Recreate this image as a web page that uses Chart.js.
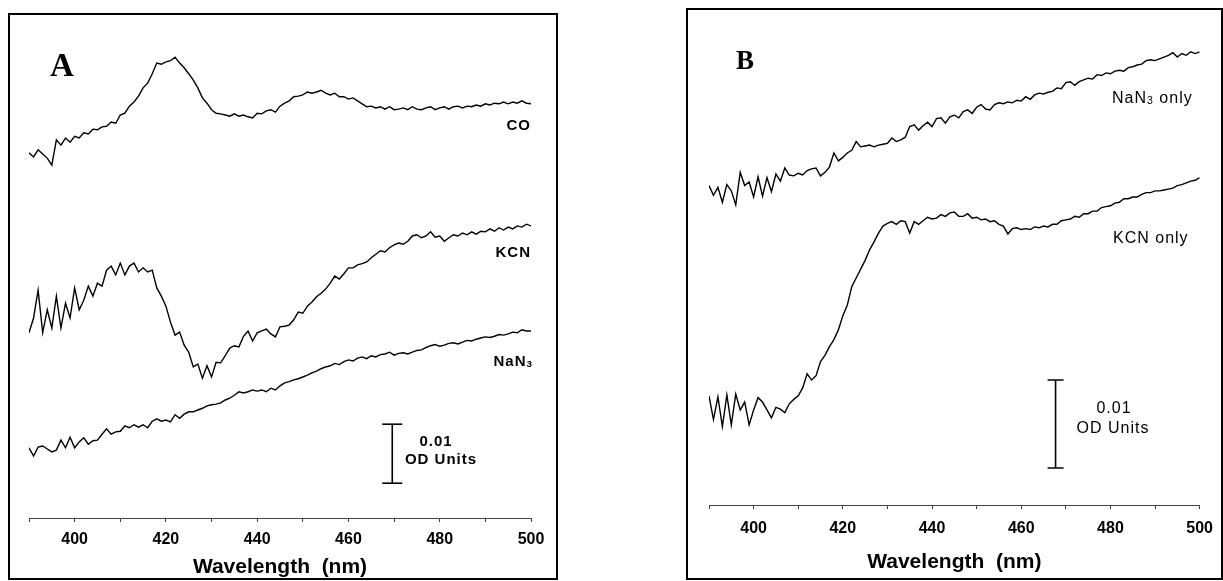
<!DOCTYPE html>
<html>
<head>
<meta charset="utf-8">
<script src="https://cdn.jsdelivr.net/npm/chart.js@4.4.0/dist/chart.umd.min.js"></script>
<style>
  html, body { margin: 0; padding: 0; background: #fff; }
  #stage { position: relative; width: 1223px; height: 581px; overflow: hidden; background: #fff; }
  .frame { position: absolute; border: 2px solid #000; box-sizing: border-box; }
  canvas { position: absolute; top: 0; }
  .lbl { position: absolute; line-height: 1; white-space: nowrap; color: #000;
         font-family: "Liberation Sans", Arial, Helvetica, sans-serif; }
  .r { transform: translate(-100%, -50%); }
  .l { transform: translate(0, -50%); }
  .c { transform: translate(-50%, -50%); }
  .panel { font-family: "Liberation Serif", "Times New Roman", serif; font-weight: bold; }
  .sub { font-size: 0.66em; position: relative; top: 0.12em; }
</style>
</head>
<body>
<div id="stage">
  <div class="frame" style="left:8px;top:13px;width:550px;height:567px;"></div>
  <div class="frame" style="left:686px;top:8px;width:537px;height:572px;"></div>
  <canvas id="chartA" width="560" height="581" style="left:0px;"></canvas>
  <canvas id="chartB" width="563" height="581" style="left:660px;"></canvas>

  <div class="lbl panel l" style="left:50px;top:65px;font-size:33px;">A</div>
  <div class="lbl r" style="left:531px;top:124px;font-size:15px;font-weight:bold;letter-spacing:1px;">CO</div>
  <div class="lbl r" style="left:531px;top:251px;font-size:15px;font-weight:bold;letter-spacing:1px;">KCN</div>
  <div class="lbl r" style="left:533px;top:360px;font-size:15px;font-weight:bold;letter-spacing:1px;">NaN<span class="sub">3</span></div>
  <div class="lbl c" style="left:436px;top:440px;font-size:15px;font-weight:bold;letter-spacing:1px;">0.01</div>
  <div class="lbl c" style="left:441px;top:458px;font-size:15px;font-weight:bold;letter-spacing:1px;">OD Units</div>

  <div class="lbl panel l" style="left:736px;top:60px;font-size:27px;">B</div>
  <div class="lbl l" style="left:1112px;top:98px;font-size:16px;letter-spacing:1px;">NaN<span class="sub">3</span> only</div>
  <div class="lbl l" style="left:1113px;top:238px;font-size:16px;letter-spacing:1px;">KCN only</div>
  <div class="lbl c" style="left:1114px;top:408px;font-size:16px;letter-spacing:1px;">0.01</div>
  <div class="lbl c" style="left:1113px;top:428px;font-size:16px;letter-spacing:1px;">OD Units</div>
</div>
<script>
// Wavelength (nm) shared by all traces
const wavelengths = [
 390,391,392,393,394,395,396,397,398,399,
 400,401,402,403,404,405,406,407,408,409,
 410,411,412,413,414,415,416,417,418,419,
 420,421,422,423,424,425,426,427,428,429,
 430,431,432,433,434,435,436,437,438,439,
 440,441,442,443,444,445,446,447,448,449,
 450,451,452,453,454,455,456,457,458,459,
 460,461,462,463,464,465,466,467,468,469,
 470,471,472,473,474,475,476,477,478,479,
 480,481,482,483,484,485,486,487,488,489,
 490,491,492,493,494,495,496,497,498,499,
 500];

// Panel A traces (absorbance offset, mOD)
const coA = [
 61.9,61.2,62.4,61.7,61.0,59.8,64.1,63.2,64.4,63.7,
 64.7,64.4,65.3,65.1,65.9,65.8,66.3,66.4,67.1,66.9,
 68.3,68.6,69.8,70.5,71.5,72.9,73.7,75.3,77.1,76.9,
 77.3,77.5,78.1,77.1,76.3,75.3,74.2,72.9,71.2,70.3,
 69.2,68.6,68.5,68.3,68.1,68.5,68.1,68.3,68.0,67.8,
 68.6,68.5,69.0,69.2,68.8,69.8,70.3,70.7,71.4,71.5,
 71.7,72.2,72.0,72.2,72.5,72.0,71.7,72.0,71.4,71.4,
 71.0,71.2,70.7,70.2,69.7,69.8,69.5,69.7,69.3,69.7,
 69.2,69.3,69.5,69.2,69.7,69.3,69.2,69.5,69.7,69.2,
 69.5,69.7,69.3,69.7,69.8,69.5,69.8,69.7,70.0,69.8,
 70.2,70.0,70.3,70.2,70.5,70.2,70.5,70.3,70.7,70.3,
 70.2];
const kcnA = [
 31.4,33.9,38.6,31.4,35.3,32.2,37.6,32.2,36.4,33.9,
 39.0,35.3,36.9,39.3,37.6,39.8,39.3,42.0,42.7,41.2,
 43.2,41.2,42.7,43.2,41.7,42.4,41.7,42.0,39.0,37.6,
 35.9,33.2,31.0,31.5,29.3,28.1,25.6,26.1,23.7,25.8,
 23.9,26.4,26.3,27.5,28.8,29.2,29.0,30.8,31.7,30.0,
 31.4,31.7,32.0,31.2,30.7,32.4,32.5,32.7,33.6,34.9,
 34.7,35.9,36.6,37.5,38.1,38.8,39.8,41.0,40.5,41.4,
 42.4,42.4,42.9,43.1,43.4,44.1,44.7,45.3,45.1,45.8,
 46.3,46.6,46.4,46.9,47.8,48.0,47.5,47.8,48.5,47.6,
 47.8,46.9,47.5,48.0,47.8,48.3,48.0,48.5,48.1,48.6,
 48.5,49.0,48.6,49.2,48.8,49.3,49.0,49.5,49.3,49.8,
 49.5];
const nan3A = [
 11.9,10.5,12.0,12.2,11.7,11.2,11.5,13.2,11.9,13.7,
 11.9,12.9,13.6,12.5,13.1,13.2,14.2,15.1,14.2,14.6,
 14.7,15.6,15.3,15.8,15.4,15.8,15.3,16.4,16.8,16.4,
 16.6,16.3,17.5,16.9,17.6,18.0,18.0,18.3,18.6,19.0,
 19.2,19.3,19.5,20.0,20.3,20.8,21.4,21.2,21.4,21.7,
 21.5,21.7,21.4,22.0,21.7,22.4,22.9,23.1,23.4,23.6,
 23.9,24.2,24.6,24.9,25.3,25.6,25.8,26.2,26.0,26.5,
 26.8,26.6,27.1,27.3,27.0,27.5,27.3,27.7,27.8,28.1,
 27.6,27.9,28.0,27.8,28.1,28.4,28.5,28.9,29.2,29.4,
 29.1,29.3,29.6,29.7,29.5,29.8,30.1,30.0,30.3,30.5,
 30.7,30.6,30.8,31.1,31.0,31.2,31.5,31.4,31.9,31.7,
 31.7];

// Panel B traces (absorbance offset, mOD)
const nan3OnlyB = [
 36.3,35.2,36.1,34.4,36.4,35.7,34.1,37.8,36.3,36.7,
 35.0,37.3,35.1,37.2,35.6,37.6,36.8,38.3,37.5,37.4,
 37.7,37.5,38.0,38.2,38.3,37.4,37.8,38.4,40.0,39.1,
 39.5,40.0,40.3,41.3,40.7,40.8,40.9,40.7,40.9,41.0,
 41.1,41.7,41.3,41.5,41.8,43.0,43.2,42.6,43.1,43.5,
 43.0,43.9,44.0,43.4,44.1,44.3,44.0,44.7,44.9,44.5,
 45.2,45.5,45.0,44.9,45.5,45.7,45.6,45.8,45.7,46.0,
 45.9,46.4,46.1,46.6,46.8,46.7,46.9,47.0,47.4,47.3,
 48.0,48.1,47.7,48.1,48.3,48.5,48.4,48.9,48.8,49.1,
 49.0,49.3,49.4,49.3,49.7,49.8,50.0,50.1,50.5,50.6,
 50.5,50.7,50.9,51.1,51.4,50.9,51.3,51.1,51.5,51.3,
 51.5];
const kcnOnlyB = [
 12.4,9.7,12.3,8.9,12.5,9.1,12.6,10.8,11.7,9.1,
 10.8,12.2,11.7,10.8,9.9,11.1,10.9,10.5,11.5,12.0,
 12.4,13.3,14.9,14.2,14.7,16.3,17.0,18.0,18.8,19.9,
 21.5,22.7,24.8,25.8,26.8,27.8,29.0,29.9,30.9,31.7,
 32.0,32.2,31.9,32.3,32.2,30.9,32.2,31.9,32.3,32.7,
 32.5,32.6,33.0,32.8,33.2,33.3,32.8,32.8,33.1,32.6,
 32.7,32.4,32.5,32.2,32.3,31.9,31.7,30.8,31.4,31.5,
 31.3,31.4,31.3,31.6,31.5,31.7,31.6,31.9,31.9,32.3,
 32.4,32.5,32.8,32.7,33.1,33.1,33.4,33.4,33.8,33.9,
 34.0,34.3,34.4,34.8,34.8,35.0,35.0,35.3,35.5,35.5,
 35.7,35.7,35.8,35.9,36.0,36.3,36.4,36.6,36.8,36.9,
 37.2];

// Scale bars: 0.01 OD = 10 mOD
const scaleBarA = { nm: 469.6, from: 5.9, to: 15.9 };
const scaleBarB = { nm: 467.7, from: 4.2, to: 14.2 };
const tickLabels = [400, 420, 440, 460, 480, 500];

function series(vals) { return wavelengths.map((w, i) => ({ x: w, y: vals[i] })); }
function traceDs(label, vals) {
  return { label, data: series(vals), borderColor: '#000', borderWidth: 1.4,
           pointRadius: 0, tension: 0, fill: false };
}
function barDs(bar, capR) {
  return { label: 'scale', data: [{ x: bar.nm, y: bar.from }, { x: bar.nm, y: bar.to }],
           borderColor: '#000', borderWidth: 1.6, pointStyle: 'line', pointRadius: capR,
           pointBorderWidth: 1.6, pointBorderColor: '#000', pointBackgroundColor: '#000', fill: false };
}
function makeChart(id, datasets, opt) {
  return new Chart(document.getElementById(id), {
    type: 'line',
    data: { datasets },
    options: {
      responsive: false, animation: false, events: [],
      layout: { padding: opt.padding },
      plugins: { legend: { display: false }, tooltip: { enabled: false } },
      scales: {
        x: {
          type: 'linear', min: 390, max: 500,
          afterFit: s => { s.height = opt.axisHeight; },
          ticks: {
            stepSize: 10, autoSkip: false, maxRotation: 0, padding: opt.tickPad, color: '#000',
            font: { family: '"Liberation Sans", Arial, sans-serif', size: 16, weight: 'bold' },
            callback: v => tickLabels.includes(v) ? String(v) : ''
          },
          grid: { drawOnChartArea: false, drawTicks: true, tickLength: 4, color: '#444', lineWidth: 1 },
          border: { display: true, color: '#444', width: 1 },
          title: {
            display: true, text: 'Wavelength  (nm)', color: '#000',
            font: { family: '"Liberation Sans", Arial, sans-serif', size: 21, weight: 'bold' },
            padding: { top: 0, bottom: opt.titlePad }
          }
        },
        y: { display: false, min: 0, max: opt.ymax }
      }
    }
  });
}

makeChart('chartA', [traceDs('CO', coA), traceDs('KCN', kcnA), traceDs('NaN3', nan3A), barDs(scaleBarA, 10)],
  { padding: { left: 29, right: 29, top: 15, bottom: 0 }, axisHeight: 63, tickPad: 8, titlePad: 1.4, ymax: 85.25 });
makeChart('chartB', [traceDs('NaN3 only', nan3OnlyB), traceDs('KCN only', kcnOnlyB), barDs(scaleBarB, 8)],
  { padding: { left: 49, right: 21, top: 10, bottom: 0 }, axisHeight: 76, tickPad: 10, titlePad: 6.4, ymax: 56.25 });
</script>
</body>
</html>
